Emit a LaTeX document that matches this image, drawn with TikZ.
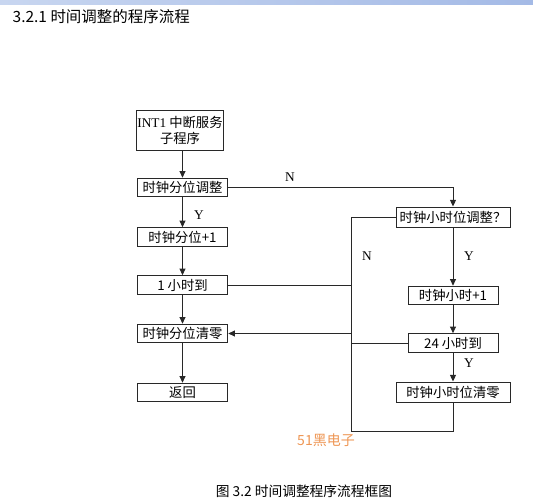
\documentclass[tikz,border=0pt]{standalone}
\usepackage{fontspec}
\usepackage{xcolor}
\usepackage{tikz}
\usetikzlibrary{arrows.meta}
\setmainfont{Liberation Serif}
\newfontfamily\cjk{Noto Sans CJK SC}
\definecolor{barleft}{RGB}{200,214,240}
\definecolor{barright}{RGB}{164,186,230}
\definecolor{markorange}{RGB}{238,150,84}
\definecolor{flowline}{RGB}{40,40,40}
\tikzset{
  flowbox/.style={draw=flowline, line width=0.7pt, inner sep=1pt, align=center,
    font=\cjk\fontsize{10}{12}\selectfont, minimum width=68pt, minimum height=14pt},
  widebox/.style={flowbox, minimum width=85.5pt, minimum height=15pt},
  flowarrow/.style={draw=flowline, line width=0.7pt, -{Triangle[length=5pt,width=4.5pt]}},
  flowline/.style={draw=flowline, line width=0.7pt},
  yn/.style={font=\fontsize{10}{12}\selectfont}
}
\begin{document}
\begin{tikzpicture}[x=0.75pt,y=-0.75pt]
  \useasboundingbox (0,0) rectangle (533,500);
  \shade[left color=barleft, right color=barright] (0,0) rectangle (533,4);
  \node[anchor=west, font=\cjk\fontsize{11.6}{13}\selectfont] (title) at (8,17) {3.2.1 时间调整的程序流程};

  % left column
  \node[flowbox, minimum width=64pt, minimum height=30pt] (int) at (180,130) {{\rmfamily INT1} 中断服务\\子程序};
  \node[flowbox] (minadj) at (182.5,187.5) {时钟分位调整};
  \node[flowbox] (minplus) at (182.5,237) {时钟分位+1};
  \node[flowbox] (onehour) at (182.5,285) {1 小时到};
  \node[flowbox] (minclr) at (182.5,333.5) {时钟分位清零};
  \node[flowbox] (ret) at (182.5,392.5) {返回};

  % right column
  \node[widebox] (hradj) at (453,217) {时钟小时位调整？};
  \node[flowbox, minimum width=67.5pt] (hrplus) at (453,295.5) {时钟小时+1};
  \node[flowbox, minimum width=67.5pt] (day) at (453,343) {24 小时到};
  \node[widebox] (hrclr) at (453,392) {时钟小时位清零};

  \coordinate (bus) at (351,217);
  \coordinate (busend) at (351,431);

  \draw[flowarrow] (int.south -| minadj.north) -- (minadj.north);
  \draw[flowarrow] (minadj.east) -| (hradj.north);
  \draw[flowarrow] (minadj.south) -- (minplus.north);
  \draw[flowarrow] (minplus.south) -- (onehour.north);
  \draw[flowarrow] (onehour.south) -- (minclr.north);
  \draw[flowarrow] (minclr.south) -- (ret.north);
  \draw[flowarrow] (hradj.south) -- (hrplus.north);
  \draw[flowarrow] (hrplus.south) -- (day.north);
  \draw[flowarrow] (day.south) -- (hrclr.north);
  \draw[flowline] (hradj.west) -- (bus) -- (busend) -| (hrclr.south);
  \draw[flowline] (onehour.east) -- (onehour.east -| bus);
  \draw[flowline] (day.west) -- (day.west -| bus);
  \draw[flowarrow] (minclr.east -| bus) -- (minclr.east);

  \node[yn] at (290,177) {N};
  \node[yn] at (199,215) {Y};
  \node[yn] at (367,256) {N};
  \node[yn] at (469,256) {Y};
  \node[yn] at (469,363) {Y};

  \node[text=markorange, font=\cjk\fontsize{10.5}{12}\selectfont] (mark) at (326,440) {51黑电子};
  \node[font=\cjk\fontsize{10.3}{12}\selectfont] (caption) at (304,491) {图 3.2 时间调整程序流程框图};
\end{tikzpicture}
\end{document}
